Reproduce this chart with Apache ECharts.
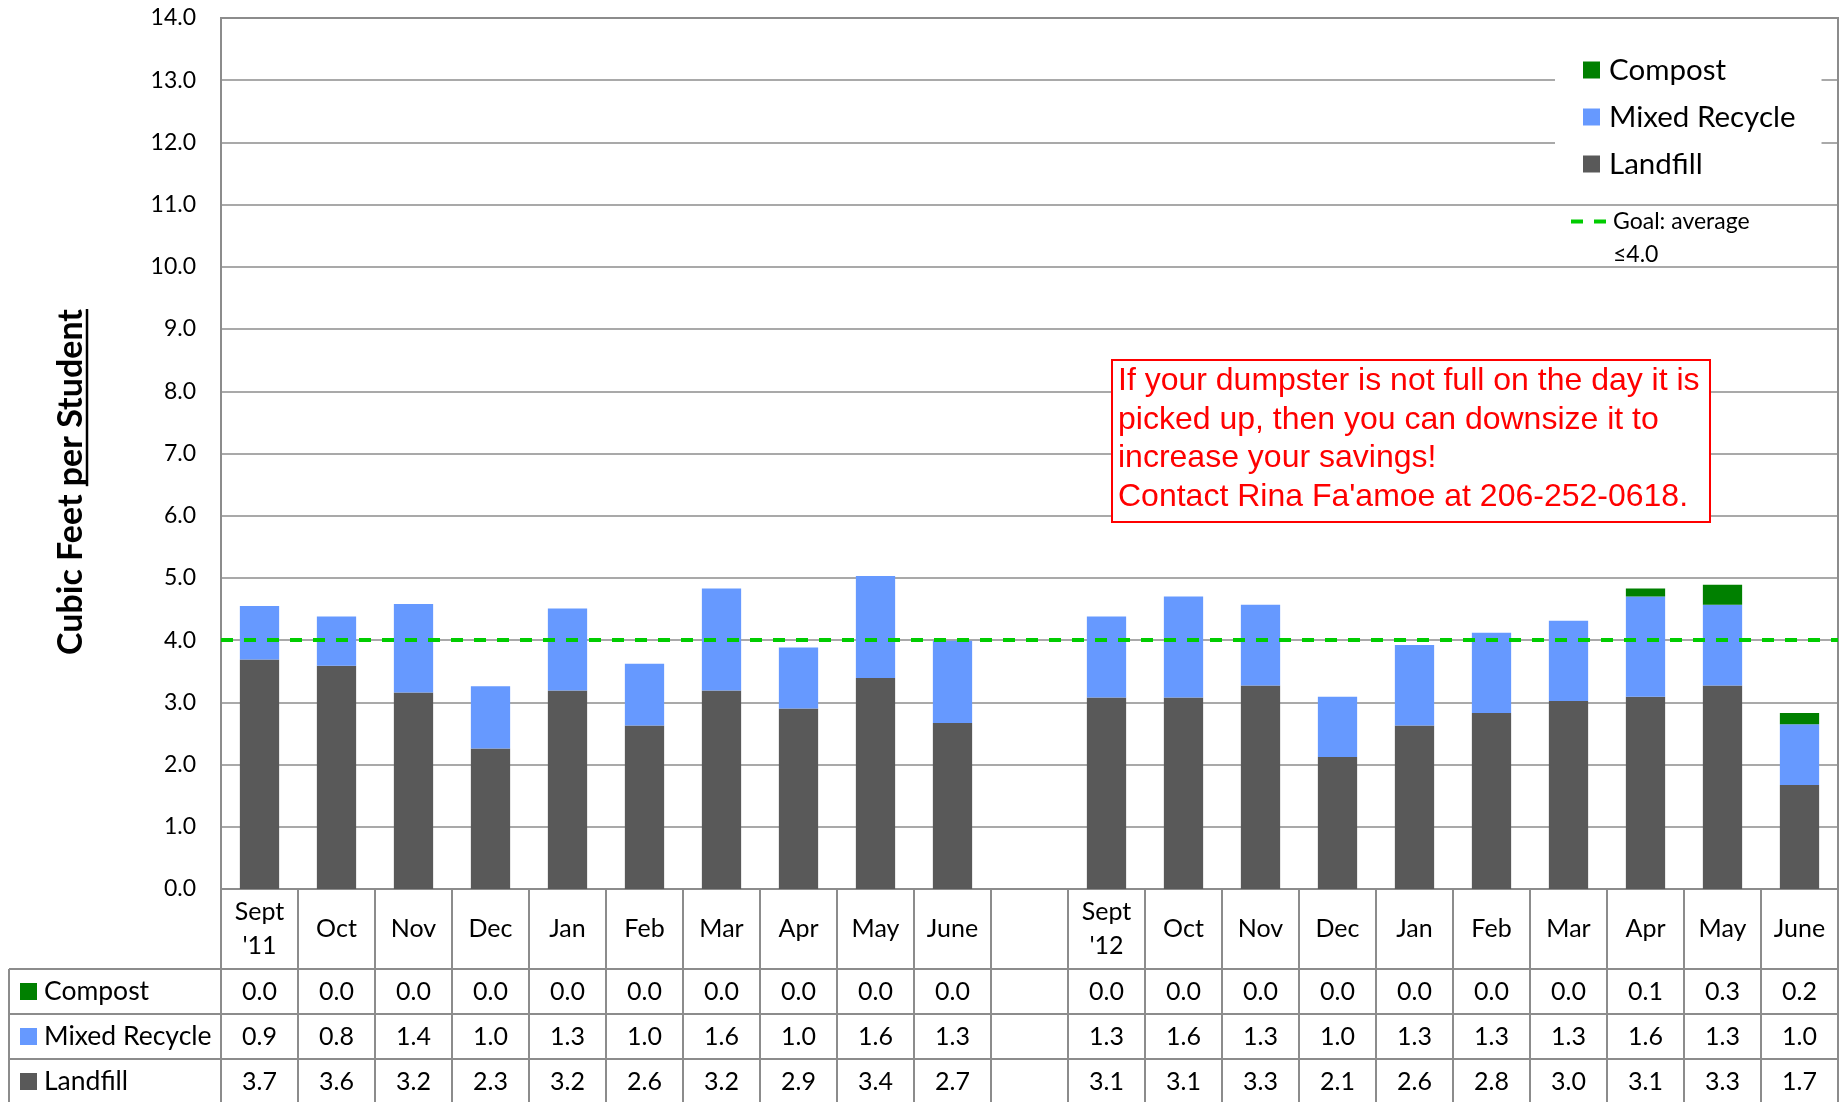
<!DOCTYPE html>
<html>
<head>
<meta charset="utf-8">
<title>Cubic Feet per Student</title>
<script src="https://cdn.jsdelivr.net/npm/echarts@6/dist/echarts.min.js"></script>
<style>
  html, body { margin: 0; padding: 0; background: #fff; }
  #chart { width: 1846px; height: 1102px; }
</style>
</head>
<body>
<div id="chart"></div>
<script>
// months, with an empty slot between the two school years
const categories = ['Sept\n\'11', 'Oct', 'Nov', 'Dec', 'Jan', 'Feb', 'Mar', 'Apr', 'May', 'June', '',
  'Sept\n\'12', 'Oct', 'Nov', 'Dec', 'Jan', 'Feb', 'Mar', 'Apr', 'May', 'June']

const landfill = [3.69, 3.59, 3.16, 2.26, 3.19, 2.63, 3.19, 2.90, 3.39, 2.67, null,
  3.08, 3.08, 3.27, 2.12, 2.63, 2.83, 3.02, 3.09, 3.27, 1.67]
const mixedRecycle = [0.86, 0.79, 1.42, 1.00, 1.32, 0.99, 1.64, 0.98, 1.64, 1.32, null,
  1.30, 1.62, 1.30, 0.97, 1.29, 1.29, 1.29, 1.61, 1.30, 0.98]
const compost = [0, 0, 0, 0, 0, 0, 0, 0, 0, 0, null,
  0, 0, 0, 0, 0, 0, 0, 0.13, 0.32, 0.18]

const goalValue = 4.0
const goalName = 'Goal: average ≤4.0'

// y axis ticks
const yMin = 0
const yMax = 14
const yStep = 1

const noteLines = [
  'If your dumpster is not full on the day it is',
  'picked up, then you can downsize it to',
  'increase your savings!',
  'Contact Rina Fa\'amoe at 206-252-0618.'
]

const colors = {
  Compost: '#008000',
  'Mixed Recycle': '#6699ff',
  Landfill: '#595959'
}
const goalColor = '#00cc00'
const gridColor = '#8c8c8c'
const font = 'Lato'

const GRID_LEFT = 221
const GRID_RIGHT = 8
const GRID_TOP = 18
const GRID_BOTTOM = 213
const HEADER_H = 80
const ROW_H = 45

const chart = echarts.init(document.getElementById('chart'))

const barSeries = [
  { name: 'Landfill', data: landfill },
  { name: 'Mixed Recycle', data: mixedRecycle },
  { name: 'Compost', data: compost }
].map((s) => {
  return {
    ...s,
    type: 'bar',
    stack: 'total',
    barWidth: '51%',
    itemStyle: { color: colors[s.name] },
    silent: true
  }
})

const options = {
  animation: false,
  textStyle: { fontFamily: font },
  grid: {
    left: GRID_LEFT,
    right: GRID_RIGHT,
    top: GRID_TOP,
    bottom: GRID_BOTTOM,
    show: true,
    borderColor: gridColor,
    borderWidth: 2
  },
  legend: [
    {
      data: ['Compost', 'Mixed Recycle', 'Landfill'],
      orient: 'vertical',
      left: 1555,
      top: 45,
      selectedMode: false,
      backgroundColor: '#fff',
      padding: [10, 26, 10, 28],
      itemWidth: 17,
      itemHeight: 17,
      itemGap: 17,
      icon: 'rect',
      textStyle: { fontFamily: font, fontSize: 29.5, lineHeight: 30, color: '#000', padding: [0, 0, 0, 4] }
    },
    {
      // dashed goal key, text hangs below the key line
      data: [{ name: goalName, icon: 'path://M0,0h12v4h-12z M23,0h12v4h-12z' }],
      left: 1566,
      top: 167,
      selectedMode: false,
      itemWidth: 35,
      itemHeight: 4,
      formatter: () => '\nGoal: average\n≤4.0',
      textStyle: {
        fontFamily: font,
        fontSize: 23,
        lineHeight: 33,
        color: '#000',
        padding: [0, 0, 0, 2]
      }
    }
  ],
  xAxis: {
    type: 'category',
    data: categories,
    axisLine: { show: true, lineStyle: { color: gridColor, width: 2 } },
    axisTick: {
      show: true,
      interval: 0,
      length: GRID_BOTTOM,
      lineStyle: { color: gridColor, width: 2 }
    },
    axisLabel: {
      interval: 0,
      color: '#000',
      fontSize: 25,
      lineHeight: 34,
      margin: HEADER_H / 2,
      verticalAlign: 'middle'
    }
  },
  yAxis: {
    type: 'value',
    min: yMin,
    max: yMax,
    interval: yStep,
    axisLine: { show: true, lineStyle: { color: gridColor, width: 2 } },
    axisTick: { show: false },
    axisLabel: {
      color: '#000',
      fontSize: 23,
      margin: 25,
      formatter: (v) => v.toFixed(1)
    },
    splitLine: { lineStyle: { color: gridColor, width: 1.5 } }
  },
  series: [
    ...barSeries,
    {
      name: goalName,
      type: 'line',
      data: categories.map(() => null),
      symbol: 'none',
      silent: true,
      itemStyle: { color: goalColor },
      lineStyle: { color: goalColor, width: 4, type: [12, 11] },
      markLine: {
        silent: true,
        symbol: ['none', 'none'],
        label: { show: false },
        lineStyle: { color: goalColor, width: 4, type: [12, 11] },
        data: [{ yAxis: goalValue }]
      }
    }
  ]
}

chart.setOption(options)

// ---- data table under the chart + annotations ----
const graphics = []
const axisY = 1102 - GRID_BOTTOM
const rightX = 1846 - GRID_RIGHT
const tableLeft = 9
const lineStyle = { stroke: gridColor, lineWidth: 2 }

const rows = [
  { name: 'Compost', data: compost },
  { name: 'Mixed Recycle', data: mixedRecycle },
  { name: 'Landfill', data: landfill }
]

// horizontal rules
for (let r = 0; r <= rows.length; r++) {
  const y = axisY + HEADER_H + r * ROW_H
  graphics.push({ type: 'line', silent: true, shape: { x1: tableLeft, y1: y, x2: rightX, y2: y }, style: lineStyle })
}
graphics.push({ type: 'line', silent: true, shape: { x1: tableLeft, y1: axisY + HEADER_H, x2: tableLeft, y2: 1102 }, style: lineStyle })

rows.forEach((row, r) => {
  const cy = axisY + HEADER_H + r * ROW_H + ROW_H / 2
  graphics.push({
    type: 'rect', silent: true,
    shape: { x: 20, y: cy - 8.5, width: 17, height: 17 },
    style: { fill: colors[row.name] }
  })
  graphics.push({
    type: 'text', silent: true, x: 44, y: cy,
    style: { text: row.name, font: `26.5px ${font}`, fill: '#000', align: 'left', verticalAlign: 'middle' }
  })
  row.data.forEach((v, i) => {
    if (v == null) return
    const cx = chart.convertToPixel({ xAxisIndex: 0 }, i)
    graphics.push({
      type: 'text', silent: true, x: cx, y: cy,
      style: { text: v.toFixed(1), font: `25px ${font}`, fill: '#000', align: 'center', verticalAlign: 'middle' }
    })
  })
})

// y axis title, "per Student" underlined
const titleText = 'Cubic Feet per Student'
const titleSize = 34
const ctx = document.createElement('canvas').getContext('2d')
ctx.font = `bold ${titleSize}px ${font}`
const wAll = ctx.measureText(titleText).width
const wPer = ctx.measureText('per Student').width
graphics.push({
  type: 'group',
  x: 71,
  y: 482,
  rotation: Math.PI / 2,
  silent: true,
  children: [
    {
      type: 'text',
      style: {
        text: titleText,
        fontFamily: font,
        fontSize: titleSize,
        fontWeight: 'bold',
        fill: '#000',
        align: 'center',
        verticalAlign: 'middle'
      }
    },
    {
      type: 'line',
      shape: { x1: wAll / 2 - wPer, y1: 16, x2: wAll / 2, y2: 16 },
      style: { stroke: '#000', lineWidth: 2.5 }
    }
  ]
})

// red note box
graphics.push({
  type: 'rect', silent: true, z: 10,
  shape: { x: 1112, y: 360, width: 598, height: 162 },
  style: { fill: '#fff', stroke: '#ff0000', lineWidth: 2 }
})
graphics.push({
  type: 'text', silent: true, z: 11,
  x: 1118, y: 362,
  style: {
    text: noteLines.join('\n'),
    font: '32px "Liberation Sans"',
    lineHeight: 38.5,
    fill: '#ff0000',
    align: 'left',
    verticalAlign: 'top'
  }
})

chart.setOption({ graphic: graphics })
window.addEventListener('resize', function () {
  chart.resize()
})
</script>
</body>
</html>
